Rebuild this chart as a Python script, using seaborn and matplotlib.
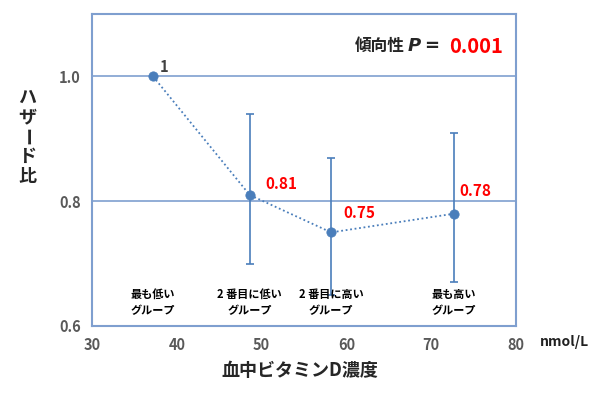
import numpy as np
import pandas as pd
import matplotlib
matplotlib.use("Agg")
import matplotlib.pyplot as plt
import seaborn as sns

# data
vitd = [37.2, 48.6, 58.2, 72.7]
hr = [1.0, 0.81, 0.75, 0.78]
ci_low = [1.0, 0.70, 0.65, 0.67]
ci_high = [1.0, 0.94, 0.87, 0.91]
hr_labels = ["1", "0.81", "0.75", "0.78"]
groups = ["最も低い\nグループ", "2 番目に低い\nグループ", "2 番目に高い\nグループ", "最も高い\nグループ"]
x_ticks = [30, 40, 50, 60, 70, 80]
y_ticks = [0.6, 0.8, 1.0]
ylabel = "ハザード比"

sns.set_style("white")
plt.rcParams["font.family"] = ["Noto Sans CJK JP", "DejaVu Sans"]

blue = "#4a7ebb"
frame = "#7f9fcf"

df = pd.DataFrame({"vitd": vitd, "hr": hr})

fig = plt.figure(figsize=(6, 3.96), dpi=100)
ax = fig.add_axes([0.1533, 0.1768, 0.7067, 0.7878])

# error bars (first group is reference, no bar)
lo = np.array(hr) - np.array(ci_low)
hi = np.array(ci_high) - np.array(hr)
ax.errorbar(vitd[1:], hr[1:], yerr=[lo[1:], hi[1:]], fmt="none",
            ecolor=blue, elinewidth=1.2, capsize=3, capthick=1.2, zorder=2)
sns.lineplot(data=df, x="vitd", y="hr", ax=ax, color=blue, linestyle=(0, (1, 1.5)),
             linewidth=1.3, zorder=3)
sns.scatterplot(data=df, x="vitd", y="hr", ax=ax, color=blue, s=45, edgecolor=blue,
                zorder=4)

ax.set_xlim(30, 80)
ax.set_ylim(0.6, 1.1)
ax.set_xticks(x_ticks)
ax.set_yticks(y_ticks)
ax.set_yticklabels([f"{v:.1f}" for v in y_ticks])
ax.tick_params(axis="both", length=0, colors="#595959", labelsize=10.5, pad=8)
for lab in ax.get_xticklabels() + ax.get_yticklabels():
    lab.set_fontweight("bold")
ax.set_xlabel("")
ax.set_ylabel("")

for yv in [0.8, 1.0]:
    ax.axhline(yv, color=frame, linewidth=1.2, zorder=1)
for s in ax.spines.values():
    s.set_color(frame)
    s.set_linewidth(1.5)

# value labels
offsets = [(0.8, 0.0145), (1.8, 0.017), (1.4, 0.031), (0.6, 0.037)]
for i, t in enumerate(hr_labels):
    ax.text(vitd[i] + offsets[i][0], hr[i] + offsets[i][1], t,
            color="#404040" if i == 0 else "red", fontsize=10.5 if i == 0 else 11,
            fontweight="bold", ha="left", va="center")

# group labels
for i, g in enumerate(groups):
    ax.text(vitd[i], 0.614, g, ha="center", va="bottom", fontsize=8,
            fontweight="bold", color="black", linespacing=1.3)

# trend p-value
py = 0.897
ax.text(0.62, py, "傾向性", transform=ax.transAxes, ha="left", va="center",
        fontsize=12, fontweight="bold")
ax.text(0.745, py, "P", transform=ax.transAxes, ha="left", va="center",
        fontsize=13, fontweight="bold", style="italic", family="DejaVu Sans")
ax.text(0.80, py, "=", transform=ax.transAxes, ha="center", va="center",
        fontsize=13, fontweight="bold", family="DejaVu Sans")
ax.text(0.842, py, "0.001", transform=ax.transAxes, ha="left", va="center",
        fontsize=14.5, fontweight="bold", color="red")

# vertical y label, one character per line; the long vowel mark is turned upright
for k, ch in enumerate(ylabel):
    fig.text(0.045, 0.755 - k * 0.05, ch, ha="center", va="center",
             fontsize=13, fontweight="bold", rotation=-90 if ch == "ー" else 0)
fig.text(0.5, 0.065, "血中ビタミンD濃度", ha="center", va="center",
         fontsize=13, fontweight="bold")
fig.text(0.94, 0.136, "nmol/L", ha="center", va="center",
         fontsize=10, fontweight="bold", color="#202020")

fig.savefig("out.png", dpi=100)
